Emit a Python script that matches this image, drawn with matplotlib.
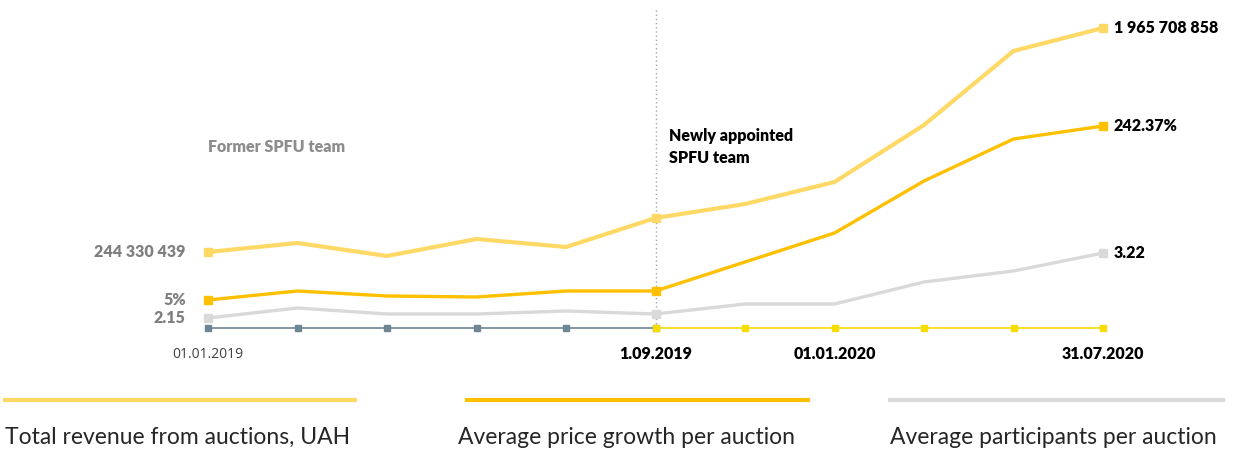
import numpy as np
import matplotlib.pyplot as plt

# points along the timeline (index 0 = 01.01.2019, 5 = 1.09.2019, 10 = 31.07.2020)
points = list(range(11))
# relative heights (schematic chart, arbitrary units)
revenue = [76, 85, 72, 89, 81, 110, 124, 146, 203, 277, 300]
price_growth = [28, 37, 32, 31, 37, 37, 66, 95, 147, 189, 202]
participants = [10, 20, 14, 14, 17, 14, 24, 24, 46, 57, 75]

start_labels = ["244 330 439", "5%", "2.15"]
end_labels = ["1 965 708 858", "242.37%", "3.22"]
date_ticks = {0: "01.01.2019", 5: "1.09.2019", 7: "01.01.2020", 10: "31.07.2020"}
legend_names = ["Total revenue from auctions, UAH",
                "Average price growth per auction",
                "Average participants per auction"]

c_rev = "#FFD966"
c_price = "#FFC000"
c_part = "#D9D9D9"
c_old = "#6E8596"
c_new = "#F7DC00"

fig = plt.figure(figsize=(12.47, 4.5), dpi=100)
ax = fig.add_axes([0, 0, 1, 1])
step = 89.5
ax.set_xlim(-208 / step, (1247 - 208) / step)
ax.set_ylim(-122, 328)
ax.axis("off")

bold = dict(family=["Lato", "DejaVu Sans"], weight="heavy", fontsize=11.5)

# dotted separator between the teams
ax.plot([5, 5], [0, 318], color="#A6A6A6", lw=1, ls=(0, (1, 2)), zorder=1)

# timeline
x = np.array(points)
base = np.zeros(len(points))
ax.plot(x[:6], base[:6], color=c_old, lw=1.2, marker="s", ms=5, zorder=3)
ax.plot(x[5:], base[5:], color=c_new, lw=1.2, marker="s", ms=5, zorder=3)

ends = [0, 5, 10]
for ys, col, lw in [(revenue, c_rev, 3.0), (price_growth, c_price, 2.4), (participants, c_part, 2.4)]:
    ys = np.array(ys)
    ax.plot(x, ys, color=col, lw=lw, solid_joinstyle="miter", zorder=2)
    ax.plot(x[ends], ys[ends], ls="none", marker="s", ms=6, color=col, zorder=4)

# start / end value labels
for ys, lab in zip([revenue, price_growth, participants], start_labels):
    ax.text(-0.25, ys[0], lab, ha="right", va="center", color="#7F7F7F", **bold)
for ys, lab in zip([revenue, price_growth, participants], end_labels):
    ax.text(10.12, ys[-1], lab, ha="left", va="center", color="black", **bold)

# date labels
for i, lab in date_ticks.items():
    if i == 0:
        ax.text(i, -26, lab, ha="center", va="center", color="#404040",
                family=["Open Sans", "DejaVu Sans"], fontsize=10)
    else:
        ax.text(i, -26, lab, ha="center", va="center", color="black", **bold)

ax.text(0, 181, "Former SPFU team", ha="left", va="center", color="#8C8C8C", **bold)
ax.text(5.15, 181, "Newly appointed\nSPFU team", ha="left", va="center",
        color="black", linespacing=1.4, **bold)

# legend drawn by hand under the chart
legend_x = [(5, 355), (467, 808), (890, 1223)]
for (x0, x1), col in zip(legend_x, [c_rev, c_price, c_part]):
    fig.add_artist(plt.Line2D([x0 / 1247, x1 / 1247], [1 - 400 / 450] * 2,
                              color=col, lw=3, transform=fig.transFigure))
tx = [5, 458, 890]
for t, name in zip(tx, legend_names):
    fig.text(t / 1247, 1 - 437 / 450, name, ha="left", va="center", color="#262626",
             family=["Lato", "DejaVu Sans"], weight="normal", fontsize=16.5)

fig.savefig("out.png", dpi=100)
